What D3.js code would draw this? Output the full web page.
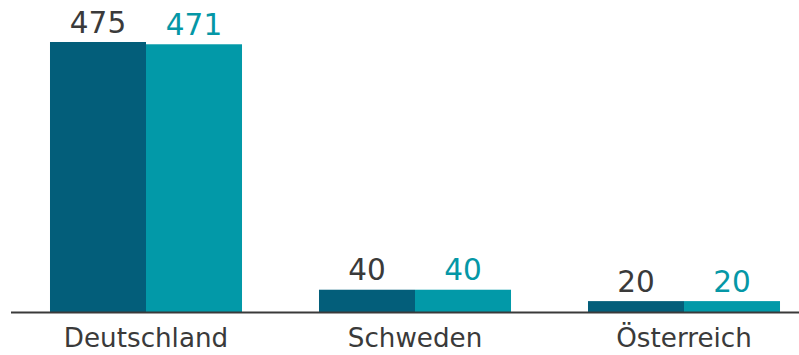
<!DOCTYPE html>
<html>
<head>
<meta charset="utf-8">
<script src="https://cdn.jsdelivr.net/npm/d3@7/dist/d3.min.js"></script>
<style>
  html, body { margin: 0; padding: 0; background: #ffffff; }
  svg { display: block; }
  text { font-family: "DejaVu Sans", Verdana, sans-serif; }
</style>
</head>
<body>
<svg id="chart" width="799" height="355"></svg>
<script>
const categories = ["Deutschland", "Schweden", "Österreich"];
const seriesA = [475, 40, 20];
const seriesB = [471, 40, 20];

const seriesColors = ["#035e7a", "#0299a8"];
const labelColors = ["#3a3a3a", "#0597a6"];

const svg = d3.select("#chart");
const baseY = 312.5;
const plotTop = 42;

const x0 = d3.scaleBand()
  .domain(categories)
  .range([11.5, 818.5])
  .paddingInner(0.2862)
  .paddingOuter(0.1431);

const x1 = d3.scaleBand()
  .domain([0, 1])
  .range([0, x0.bandwidth()])
  .padding(0);

const y = d3.scaleLinear()
  .domain([0, 475])
  .range([baseY, plotTop]);

const rows = categories.map((c, i) => ({ cat: c, vals: [seriesA[i], seriesB[i]] }));

const groups = svg.selectAll("g.grp")
  .data(rows)
  .enter().append("g")
  .attr("class", "grp")
  .attr("transform", d => `translate(${x0(d.cat)},0)`);

groups.selectAll("rect")
  .data(d => d.vals.map((v, k) => ({ v, k })))
  .enter().append("rect")
  .attr("x", d => x1(d.k))
  .attr("width", x1.bandwidth())
  .attr("y", d => y(d.v))
  .attr("height", d => baseY - y(d.v))
  .attr("fill", d => seriesColors[d.k]);

groups.selectAll("text.val")
  .data(d => d.vals.map((v, k) => ({ v, k })))
  .enter().append("text")
  .attr("class", "val")
  .attr("x", d => x1(d.k) + x1.bandwidth() / 2)
  .attr("y", d => y(d.v) - 9.5)
  .attr("text-anchor", "middle")
  .attr("font-size", 29.5)
  .attr("fill", d => labelColors[d.k])
  .text(d => d.v);

// category labels along the baseline
const xAxis = d3.axisBottom(x0).tickSize(0).tickPadding(0);
const axisG = svg.append("g")
  .attr("transform", `translate(0,${baseY})`)
  .call(xAxis);
axisG.select(".domain").remove();
axisG.selectAll("text")
  .attr("dy", null)
  .attr("y", 34.5)
  .attr("font-size", 26.2)
  .attr("fill", "#3a3a3a")
  .attr("font-family", "DejaVu Sans, Verdana, sans-serif");

svg.append("line")
  .attr("x1", 11).attr("x2", 799)
  .attr("y1", baseY).attr("y2", baseY)
  .attr("stroke", "#3a3a3a")
  .attr("stroke-width", 2);
</script>
</body>
</html>
